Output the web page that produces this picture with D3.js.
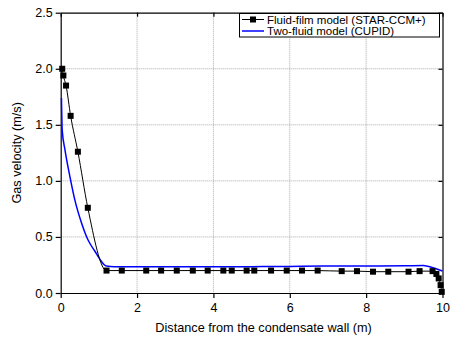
<!DOCTYPE html>
<html><head><meta charset="utf-8">
<script src="https://cdn.jsdelivr.net/npm/d3@7"></script>
<style>body{margin:0;background:#fff}svg{display:block}text{font-family:"Liberation Sans",Arial,sans-serif}</style>
</head><body>
<script>
const filmX = [0.04,0.07,0.14,0.26,0.45,0.71,1.2,1.6,2.24,2.63,3.04,3.46,3.85,4.26,4.48,4.87,5.07,5.51,5.92,6.32,6.73,7.36,7.76,8.18,8.58,9.11,9.4,9.74,9.84,9.9,9.95,9.98];
const filmY = [2.0,1.94,1.85,1.58,1.26,0.76,0.2,0.2,0.2,0.2,0.2,0.2,0.2,0.2,0.2,0.2,0.2,0.2,0.2,0.2,0.2,0.195,0.195,0.19,0.19,0.19,0.195,0.195,0.17,0.13,0.07,0.01];
const cupidX = [0.02,0.04,0.11,0.24,0.37,0.55,0.72,0.9,1.07,1.2,1.4,2,3,4,5,6,7,8,9,9.5,9.75,10];
const cupidY = [1.74,1.45,1.28,1.04,0.83,0.62,0.47,0.37,0.28,0.24,0.235,0.235,0.235,0.235,0.235,0.237,0.24,0.24,0.242,0.245,0.225,0.196];
const xTicks = [0,2,4,6,8,10];
const yTicks = [0.0,0.5,1.0,1.5,2.0,2.5];
const legendLabels = ["Fluid-film model (STAR-CCM+)","Two-fluid model (CUPID)"];

const W=453,H=342, L=60.7, R=442.5, T=12.7, B=293;
const svg=d3.select("body").append("svg").attr("width",W).attr("height",H);
const x=d3.scaleLinear().domain([0,10]).range([L,R]);
const y=d3.scaleLinear().domain([0,2.5]).range([B,T]);

// grid
svg.append("g").selectAll("line").data(xTicks.filter(d=>d>0&&d<10)).join("line")
  .attr("x1",d=>x(d)).attr("x2",d=>x(d)).attr("y1",T).attr("y2",B)
  .attr("stroke","#aaa").attr("stroke-width",1).attr("stroke-dasharray","1,1");
svg.append("g").selectAll("line").data(yTicks.filter(d=>d>0&&d<2.5)).join("line")
  .attr("y1",d=>y(d)).attr("y2",d=>y(d)).attr("x1",L).attr("x2",R)
  .attr("stroke","#aaa").attr("stroke-width",1).attr("stroke-dasharray","1,1");

// axes
const fmt=d3.format(".1f");
const gx=svg.append("g").attr("transform",`translate(0,${B})`)
  .call(d3.axisBottom(x).tickValues(xTicks).tickSize(5).tickSizeOuter(0).tickFormat(d3.format("d")));
const gy=svg.append("g").attr("transform",`translate(${L},0)`)
  .call(d3.axisLeft(y).tickValues(yTicks).tickSize(5).tickSizeOuter(0).tickFormat(fmt));
const gt=svg.append("g").attr("transform",`translate(0,${T})`)
  .call(d3.axisBottom(x).tickValues(xTicks).tickSize(4).tickSizeOuter(0).tickFormat(""));
const gr=svg.append("g").attr("transform",`translate(${R},0)`)
  .call(d3.axisLeft(y).tickValues(yTicks).tickSize(4).tickSizeOuter(0).tickFormat(""));
[gx,gy,gt,gr].forEach(g=>{
  g.selectAll("path,line").attr("stroke","#000").attr("stroke-width",1.2);
  g.selectAll("text").attr("font-size",12.5).attr("fill","#000").style("font-family","'Liberation Sans',Arial,sans-serif");
});
gx.selectAll("text").attr("dy","0.9em");

// series
const film=filmX.map((d,i)=>[d,filmY[i]]);
const cupid=cupidX.map((d,i)=>[d,cupidY[i]]);
svg.append("path").datum(cupid).attr("fill","none").attr("stroke","#0000ff").attr("stroke-width",1.5)
  .attr("d",d3.line().x(d=>x(d[0])).y(d=>y(d[1])).curve(d3.curveMonotoneX));
svg.append("path").datum(film).attr("fill","none").attr("stroke","#000").attr("stroke-width",1)
  .attr("d",d3.line().x(d=>x(d[0])).y(d=>y(d[1])).curve(d3.curveMonotoneX));
svg.append("g").selectAll("rect").data(film).join("rect")
  .attr("x",d=>x(d[0])-3).attr("y",d=>y(d[1])-3).attr("width",6).attr("height",6).attr("fill","#000");

// legend
const lg=svg.append("g");
lg.append("rect").attr("x",239.5).attr("y",13.5).attr("width",200).attr("height",23.5)
  .attr("fill","#fff").attr("stroke","#000").attr("stroke-width",1);
lg.append("line").attr("x1",242).attr("x2",264).attr("y1",19.5).attr("y2",19.5).attr("stroke","#000");
lg.append("rect").attr("x",250).attr("y",16.5).attr("width",6).attr("height",6).attr("fill","#000");
lg.append("line").attr("x1",242).attr("x2",264).attr("y1",31).attr("y2",31).attr("stroke","#0000ff").attr("stroke-width",1.5);
lg.selectAll("text").data(legendLabels).join("text")
  .attr("x",267).attr("y",(d,i)=>19.5+i*11.5).attr("dy","0.35em").attr("font-size",11.5).text(d=>d);

// titles
svg.append("text").attr("x",(L+R)/2+12).attr("y",332).attr("text-anchor","middle").attr("font-size",12.7)
  .text("Distance from the condensate wall (m)");
svg.append("text").attr("transform",`translate(21,${(T+B)/2}) rotate(-90)`).attr("text-anchor","middle").attr("font-size",12.7)
  .text("Gas velocity (m/s)");
</script>
</body></html>
